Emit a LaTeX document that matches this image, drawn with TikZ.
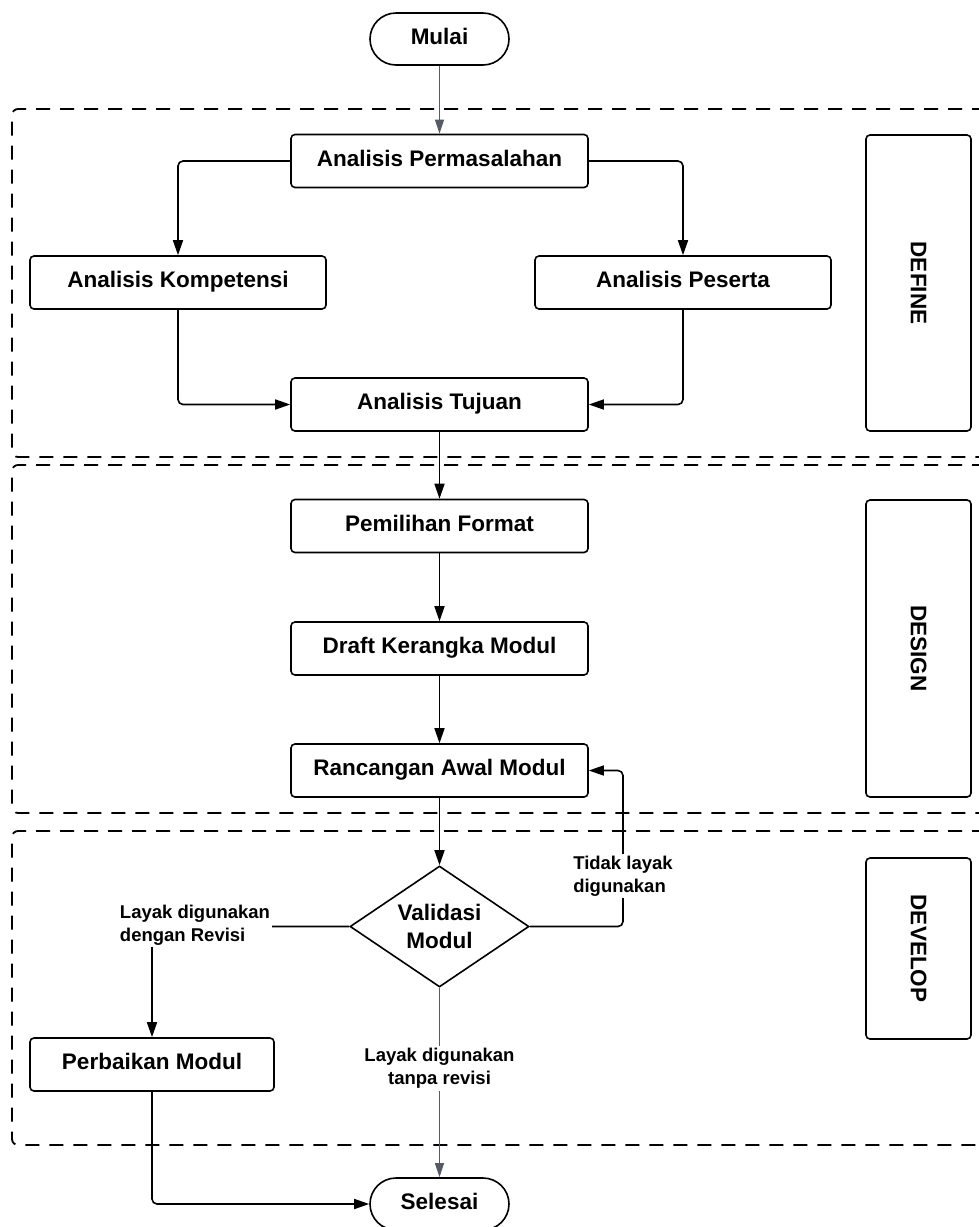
\documentclass[tikz,border=0pt]{standalone}
\usepackage{fontspec}
\setmainfont{Liberation Sans}
\usetikzlibrary{positioning,arrows.meta,shapes.geometric}
\definecolor{linegray}{HTML}{565B63}

\begin{document}
\begin{tikzpicture}[x=1pt,y=-1pt,
	box/.style={rectangle, rounded corners=4pt, draw=black, line width=1.6pt,
	minimum width=297pt, minimum height=53pt, inner sep=0pt,
	text height=17pt, text depth=7pt,
	font=\fontsize{22.5}{26}\selectfont\bfseries},
	term/.style={rectangle, rounded corners=26pt, draw=black, line width=1.6pt,
	minimum width=139pt, minimum height=52pt, inner sep=0pt,
	text height=17pt, text depth=7pt,
	font=\fontsize{22.5}{26}\selectfont\bfseries},
	phase/.style={rectangle, rounded corners=4pt, draw=black, line width=1.6pt,
	minimum width=105pt, inner sep=0pt},
	phasetext/.style={rotate=-90, font=\fontsize{22.5}{26}\selectfont\bfseries},
	decision/.style={diamond, draw=black, line width=1.6pt, aspect=1.48,
	minimum width=179pt, minimum height=121pt, inner sep=0pt,
	font=\fontsize{22.5}{28}\selectfont\bfseries, align=center},
	lbl/.style={fill=white, inner sep=2pt, align=left,
	font=\fontsize{18.5}{23}\selectfont\bfseries},
	frame/.style={dashed, dash pattern=on 14pt off 10pt, line width=1.8pt,
	rounded corners=6pt},
	arr/.style={-{Triangle[length=15pt,width=10pt]}, line width=1.6pt, rounded corners=5pt},
	garr/.style={-{Triangle[length=14pt,width=9pt]}, line width=1.1pt, draw=linegray}
	]
	\useasboundingbox (0,0) rectangle (979,1227);
	
	% phase frames
	\draw[frame] (1010,109) -- (12,109) -- (12,457) -- (1010,457);
	\draw[frame] (1010,465) -- (12,465) -- (12,813) -- (1010,813);
	\draw[frame] (1010,831) -- (12,831) -- (12,1145) -- (1010,1145);
	
	\node[phase, minimum height=296pt] (define) at (918.5,283) {};
	\node[phasetext] at (define) {DEFINE};
	\node[phase, minimum height=297pt] (design) at (918.5,648.5) {};
	\node[phasetext] at (design) {DESIGN};
	\node[phase, minimum height=181pt] (develop) at (918.5,948.5) {};
	\node[phasetext] at (develop) {DEVELOP};
	
	% flow
	\node[term] (mulai) at (439.5,39) {Mulai};
	\node[box] (masalah) at (439.5,161) {Analisis Permasalahan};
	\node[box, minimum width=296pt] (kompetensi) at (178,282.5) {Analisis Kompetensi};
	\node[box, minimum width=296pt] (peserta) at (683,282.5) {Analisis Peserta};
	\node[box] (tujuan) at (439.5,404.5) {Analisis Tujuan};
	\node[box] (format) at (439.5,526) {Pemilihan Format};
	\node[box] (draft) at (439.5,648.5) {Draft Kerangka Modul};
	\node[box] (rancangan) at (439.5,770.5) {Rancangan Awal Modul};
	\node[decision] (validasi) at (439.5,926.5) {Validasi\\Modul};
	\node[box, minimum width=244pt] (perbaikan) at (152,1064.5) {Perbaikan Modul};
	\node[term] (selesai) at (439.5,1204) {Selesai};
	
	\draw[garr] (mulai.south) to (masalah.north);
	\draw[arr] (masalah.west) -| (kompetensi.north);
	\draw[arr] (masalah.east) -| (peserta.north);
	\draw[arr] (kompetensi.south) |- (tujuan.west);
	\draw[arr] (peserta.south) |- (tujuan.east);
	\draw[arr] (tujuan.south) to (format.north);
	\draw[arr] (format.south) to (draft.north);
	\draw[arr] (draft.south) to (rancangan.north);
	\draw[arr] (rancangan.south) to (validasi.north);
	\draw[arr] (validasi.east) -- (623,926.5) |- (rancangan.east);
	\draw[arr] (validasi.west) -| (perbaikan.north);
	\draw[garr] (validasi.south) to (selesai.north);
	\draw[arr] (perbaikan.south) |- (selesai.west);
	
	% labels on connectors
	\node[lbl] (tidak) at (623,876) {Tidak layak\\digunakan};
	\node[lbl] (revisi) at (195,925) {Layak digunakan\\dengan Revisi};
	\node[lbl, align=center] (tanpa) at (439.5,1068.5) {Layak digunakan\\tanpa revisi};
\end{tikzpicture}
\end{document}
